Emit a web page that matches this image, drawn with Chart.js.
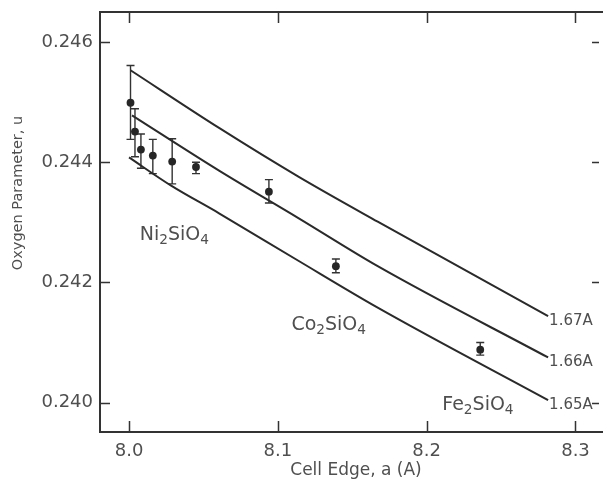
<!DOCTYPE html>
<html>
<head>
<meta charset="utf-8">
<script src="https://cdn.jsdelivr.net/npm/chart.js@4.4.1/dist/chart.umd.min.js"></script>
<style>
  html, body { margin: 0; padding: 0; background: #fff; overflow: hidden; }
  canvas { display: block; }
</style>
</head>
<body>
<canvas id="chart" width="603" height="479"></canvas>
<script>
// Measured olivines: cell edge a (A) vs oxygen parameter u, with error bar ends
const cellEdge = [8.001, 8.004, 8.008, 8.016, 8.029, 8.045, 8.094, 8.139, 8.236];
const oxygenU  = [0.24499, 0.24451, 0.24421, 0.24411, 0.24401, 0.24392, 0.24351, 0.24227, 0.24088];
const uHigh    = [0.24561, 0.24489, 0.24447, 0.24438, 0.24439, 0.24400, 0.24371, 0.24239, 0.24100];
const uLow     = [0.24438, 0.24409, 0.24390, 0.24381, 0.24364, 0.24381, 0.24332, 0.24216, 0.24079];

// Constant Si-O bond length curves
const curveX167 = [8.001, 8.0605, 8.1138, 8.1671, 8.2816];
const curveU167 = [0.24553, 0.24457, 0.24376, 0.24301, 0.24144];
const curveX166 = [8.002, 8.0605, 8.1138, 8.1671, 8.2816];
const curveU166 = [0.24478, 0.24386, 0.24307, 0.24227, 0.24075];
const curveX165 = [8.0, 8.0283, 8.0605, 8.1138, 8.1671, 8.2816];
const curveU165 = [0.24408, 0.24361, 0.24315, 0.24236, 0.24158, 0.24004];
const curveNames = ['1.67A', '1.66A', '1.65A'];

const xTicks = [8.0, 8.1, 8.2, 8.3];
const yTicks = [0.240, 0.242, 0.244, 0.246];

// compound labels: [formula, a, u] (left edge / baseline)
const compounds = [
  ['Ni_2SiO_4', 8.0072, 0.24271],
  ['Co_2SiO_4', 8.1091, 0.24121],
  ['Fe_2SiO_4', 8.2105, 0.23988]
];

const FONT = '"DejaVu Sans", sans-serif';
const INK = '#333';
const TEXT = '#4f4f4f';

function drawFormula(ctx, formula, x, y, size) {
  // "_" marks a subscript digit
  const parts = formula.split(/(_\d)/).filter(p => p);
  parts.forEach(p => {
    const sub = p[0] === '_';
    const t = sub ? p.slice(1) : p;
    ctx.font = (sub ? size * 0.72 : size) + 'px ' + FONT;
    ctx.fillText(t, x, y + (sub ? size * 0.24 : 0));
    x += ctx.measureText(t).width;
  });
}

const decorations = {
  id: 'decorations',
  beforeDatasetsDraw(chart) {
    const { ctx, scales: { x, y } } = chart;
    ctx.save();
    ctx.strokeStyle = INK;
    ctx.lineWidth = 1.4;
    cellEdge.forEach((a, i) => {
      const px = x.getPixelForValue(a);
      const top = y.getPixelForValue(uHigh[i]);
      const bot = y.getPixelForValue(uLow[i]);
      ctx.beginPath();
      ctx.moveTo(px, top); ctx.lineTo(px, bot);
      ctx.moveTo(px - 4, top); ctx.lineTo(px + 4, top);
      ctx.moveTo(px - 4, bot); ctx.lineTo(px + 4, bot);
      ctx.stroke();
    });
    ctx.restore();
  },
  afterDraw(chart) {
    const { ctx, chartArea: ca, scales: { x, y } } = chart;
    ctx.save();
    // frame: left, top, bottom (right side falls outside the picture)
    ctx.strokeStyle = INK;
    ctx.lineWidth = 2;
    ctx.beginPath();
    ctx.moveTo(chart.width, ca.top);
    ctx.lineTo(ca.left, ca.top);
    ctx.lineTo(ca.left, ca.bottom);
    ctx.lineTo(chart.width, ca.bottom);
    ctx.stroke();
    // inward ticks
    ctx.lineWidth = 1.5;
    ctx.beginPath();
    xTicks.forEach(v => {
      const px = Math.round(x.getPixelForValue(v)) + 0.5;
      ctx.moveTo(px, ca.bottom); ctx.lineTo(px, ca.bottom - 11);
      ctx.moveTo(px, ca.top); ctx.lineTo(px, ca.top + 11);
    });
    yTicks.forEach(v => {
      const py = Math.round(y.getPixelForValue(v)) + 0.5;
      ctx.moveTo(ca.left, py); ctx.lineTo(ca.left + 10, py);
      ctx.moveTo(ca.right, py); ctx.lineTo(ca.right - 7, py);
    });
    ctx.stroke();

    // curve labels at the right end of each line
    ctx.fillStyle = TEXT;
    ctx.font = '15px ' + FONT;
    ctx.textBaseline = 'middle';
    ctx.textAlign = 'left';
    [[curveX167, curveU167], [curveX166, curveU166], [curveX165, curveU165]].forEach(([cx, cu], i) => {
      const n = cx.length - 1;
      ctx.fillText(curveNames[i], x.getPixelForValue(cx[n]) + 1, y.getPixelForValue(cu[n]) + 5);
    });

    // compound names
    ctx.textBaseline = 'alphabetic';
    compounds.forEach(([f, a, u]) => {
      drawFormula(ctx, f, x.getPixelForValue(a), y.getPixelForValue(u), 19);
    });

    // axis titles
    ctx.textAlign = 'center';
    ctx.font = '17px ' + FONT;
    ctx.fillText('Cell Edge, a (A)', 356, 475);
    ctx.translate(22, 193);
    ctx.rotate(-Math.PI / 2);
    ctx.font = '14.5px ' + FONT;
    ctx.fillText('Oxygen Parameter, u', 0, 0);
    ctx.restore();
  }
};

const curveStyle = {
  type: 'line', showLine: true, borderColor: '#2a2a2a', borderWidth: 2,
  pointRadius: 0, cubicInterpolationMode: 'monotone', fill: false
};

new Chart(document.getElementById('chart'), {
  type: 'scatter',
  data: {
    datasets: [
      {
        data: cellEdge.map((a, i) => ({ x: a, y: oxygenU[i] })),
        pointRadius: 3.9, backgroundColor: '#262626', borderWidth: 0
      },
      { ...curveStyle, data: curveX167.map((a, i) => ({ x: a, y: curveU167[i] })) },
      { ...curveStyle, data: curveX166.map((a, i) => ({ x: a, y: curveU166[i] })) },
      { ...curveStyle, data: curveX165.map((a, i) => ({ x: a, y: curveU165[i] })) }
    ]
  },
  options: {
    responsive: false,
    animation: false,
    layout: { padding: { left: 0, top: 12, right: 0, bottom: 0 } },
    plugins: { legend: { display: false }, tooltip: { enabled: false } },
    scales: {
      x: {
        type: 'linear', min: 7.9805, max: 8.3158,
        grid: { display: false, drawTicks: false },
        border: { display: false },
        afterBuildTicks: s => { s.ticks = xTicks.map(v => ({ value: v })); },
        afterFit: s => { s.height = 47; s.paddingLeft = 0; s.paddingRight = 0; },
        ticks: {
          padding: 9, color: TEXT, maxRotation: 0,
          font: { family: FONT, size: 18 },
          callback: v => v.toFixed(1)
        }
      },
      y: {
        type: 'linear', min: 0.23951, max: 0.2465,
        grid: { display: false, drawTicks: false },
        border: { display: false },
        afterBuildTicks: s => { s.ticks = yTicks.map(v => ({ value: v })); },
        afterFit: s => { s.width = 100; s.paddingTop = 0; s.paddingBottom = 0; },
        ticks: {
          padding: 7, color: TEXT,
          font: { family: FONT, size: 18 },
          callback: v => v.toFixed(3)
        }
      }
    }
  },
  plugins: [decorations]
});
</script>
</body>
</html>
